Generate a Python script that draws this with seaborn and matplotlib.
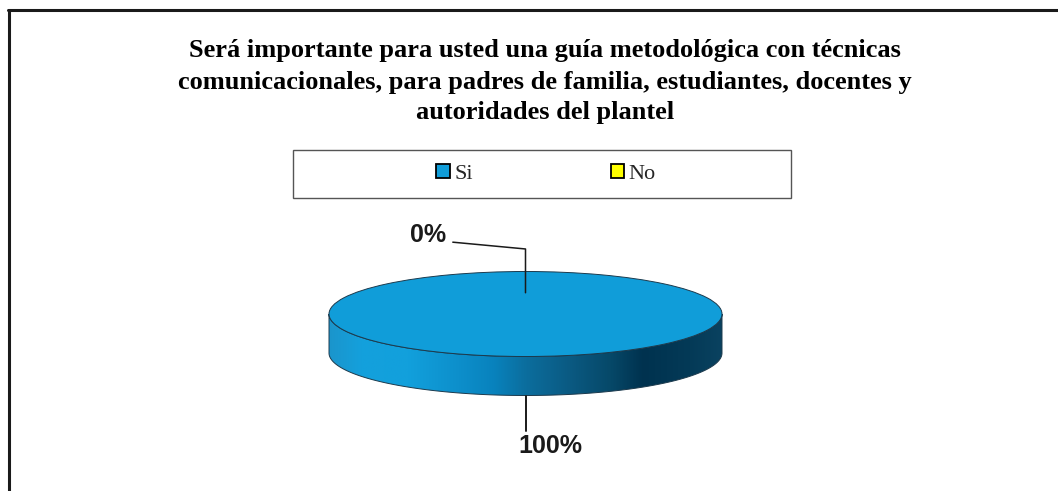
import numpy as np
import matplotlib
matplotlib.use("Agg")
import matplotlib.pyplot as plt
from matplotlib.patches import Patch, Polygon, Rectangle
from matplotlib.lines import Line2D
from matplotlib.colors import LinearSegmentedColormap
import seaborn as sns

# Data
categories = ["Si", "No"]
values = [100, 0]
colors = ["#109DD9", "#FFFF00"]
title_lines = [
    "Será importante para usted una guía metodológica con técnicas",
    "comunicacionales, para padres de familia, estudiantes, docentes y",
    "autoridades del plantel",
]

# shading of the pie's side wall (left light -> right dark)
side_stops = [
    (0.00, "#1b95cc"), (0.08, "#14a0dc"), (0.20, "#12a0dc"),
    (0.33, "#0d8fcb"), (0.42, "#0882bd"), (0.50, "#0c6e9e"),
    (0.63, "#0a577e"), (0.72, "#064868"), (0.80, "#00324f"),
    (0.92, "#043a57"), (1.00, "#0a4260"),
]

sns.set_theme(style="white")
plt.rcParams["font.family"] = ["Liberation Serif", "DejaVu Serif"]

W, H = 1058, 491
fig = plt.figure(figsize=(W / 100, H / 100), dpi=100)
fig.patch.set_facecolor("white")

# Outer frame (only top and left edges are visible)
fig.add_artist(Line2D([8 / W, 1], [1 - 10 / H] * 2, color="#1a1a1a", lw=2.2))
fig.add_artist(Line2D([9 / W] * 2, [0, 1 - 10 / H], color="#1a1a1a", lw=2.2))

# Title
for i, line in enumerate(title_lines):
    fig.text(545 / W, 1 - (51 + 31 * i) / H, line, ha="center", va="center",
             fontsize=19, fontweight="bold", color="black")

# Legend box + legend
fig.add_artist(Rectangle((293 / W, 1 - 198 / H), 498 / W, 48 / H,
                         transform=fig.transFigure, fill=False,
                         edgecolor="#555555", lw=1))
handles = [Patch(facecolor=c, edgecolor="black", lw=1.3) for c in colors]
fig.legend(handles, categories, loc="center", bbox_to_anchor=(546 / W, 1 - 174 / H),
           ncol=2, frameon=False, fontsize=16, handlelength=0.6, handleheight=0.6,
           handletextpad=0.2, columnspacing=6.2)

# Pie axes: x and y units scaled differently so the circle becomes an ellipse
rx, ry, depth_px = 196.5, 42.5, 39
cx, cy = 525.5, 314
x0, x1, y0, y1 = -1.3, 1.3, -3.6, 2.2
ax = fig.add_axes([(cx + x0 * rx) / W, 1 - (cy - y0 * ry) / H,
                   (x1 - x0) * rx / W, (y1 - y0) * ry / H])
depth = depth_px / ry

# Side wall of the 3D pie with a horizontal gradient
t = np.linspace(np.pi, 2 * np.pi, 300)
ex, ey = np.cos(t), np.sin(t)
side = np.column_stack([np.r_[ex, ex[::-1]], np.r_[ey, ey[::-1] - depth]])
poly = Polygon(side, closed=True, facecolor="none", edgecolor="#1c3a4d", lw=0.7, zorder=2)
ax.add_patch(poly)
side_cmap = LinearSegmentedColormap.from_list("side", side_stops)
im = ax.imshow(np.linspace(0, 1, 512)[None, :], cmap=side_cmap,
               extent=(-1, 1, -1 - depth, 0), aspect="auto", zorder=1)
im.set_clip_path(poly)

# Top face
wedges, _ = ax.pie(values, colors=colors, startangle=90, counterclock=False,
                   radius=1, center=(0, 0),
                   wedgeprops=dict(edgecolor="#1c3a4d", linewidth=0.7))
for w, v in zip(wedges, values):
    w.set_zorder(3)
    if v == 0:
        w.set_visible(False)

ax.set_aspect("auto")
ax.set_xlim(x0, x1)
ax.set_ylim(y0, y1)
ax.axis("off")

# Percentage labels with leader lines
total = sum(values)
start = 90.0
for v in values:
    span = v / total * 360
    mid = np.deg2rad(start - span / 2)
    start -= span
    pct = f"{v / total * 100:.0f}%"
    c, s = np.cos(mid), np.sin(mid)
    if s < 0:
        # front slice: line from bottom of the side wall downwards
        ax.plot([c, c], [s - depth, s - depth - 0.83], color="#1a1a1a", lw=1.4,
                zorder=4, clip_on=False)
        ax.text(c + 0.125, s - depth - 1.18, pct, ha="center", va="center",
                fontsize=18, fontweight="bold", family="Liberation Sans",
                color="#1a1a1a", clip_on=False)
    else:
        # back slice: line from inside the top face up and to the left
        ax.plot([0.5 * c, 0.5 * c, 0.5 * c - 0.37], [0.5 * s, 1.53, 1.69],
                color="#1a1a1a", lw=1.1, zorder=4, clip_on=False)
        ax.text(0.5 * c - 0.496, 1.86, pct, ha="center", va="center",
                fontsize=18, fontweight="bold", family="Liberation Sans",
                color="#1a1a1a", clip_on=False)

fig.savefig("out.png", dpi=100)
